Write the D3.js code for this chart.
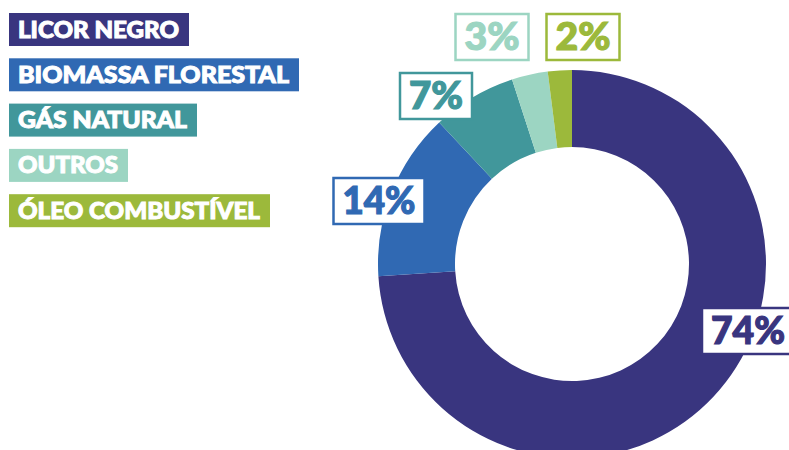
<!DOCTYPE html>
<html><head><meta charset="utf-8">
<script src="https://cdn.jsdelivr.net/npm/d3@7"></script>
<style>
body{margin:0;background:#fff}
text{font-family:Lato,"Open Sans",sans-serif;font-weight:900}
</style></head>
<body><svg id="chart" width="789" height="450"></svg>
<script>
// Fuel shares of the energy matrix
const categories = ["LICOR NEGRO", "BIOMASSA FLORESTAL", "GÁS NATURAL", "OUTROS", "ÓLEO COMBUSTÍVEL"];
const shares = [74, 14, 7, 3, 2];
const valueLabels = ["74%", "14%", "7%", "3%", "2%"];
const colors = ["#39357f", "#3069b3", "#41979b", "#9cd5c2", "#9cb93b"];

// layout
const cx = 572, cy = 264, outerR = 194, innerR = 117;
const labelAnchors = [[748, 331], [379, 201], [436, 96], [492, 37], [583, 37]];
const valueTextWidths = [74, 73, 54, 55, 55];
const legendTextWidths = [161, 271, 169, 100, 242];

const svg = d3.select("#chart");
const color = d3.scaleOrdinal().domain(categories).range(colors);

// donut
const pie = d3.pie().sort(null).value(d => d.v);
const arcs = pie(categories.map((c, i) => ({c, v: shares[i]})));
const arc = d3.arc().innerRadius(innerR).outerRadius(outerR);
svg.append("g").attr("transform", `translate(${cx},${cy})`)
  .selectAll("path").data(arcs).join("path")
  .attr("d", arc).attr("fill", d => color(d.data.c));

// value labels in outlined boxes
const vl = svg.append("g").selectAll("g").data(arcs).join("g")
  .attr("transform", (d, i) => `translate(${labelAnchors[i][0]},${labelAnchors[i][1]})`);
vl.append("rect").attr("fill", "#fff")
  .attr("stroke", d => color(d.data.c)).attr("stroke-width", 2.5)
  .attr("x", (d, i) => -valueTextWidths[i] / 2 - 9)
  .attr("width", (d, i) => valueTextWidths[i] + 18)
  .attr("y", -23).attr("height", 46);
vl.append("text").attr("text-anchor", "middle").attr("dy", "0.36em")
  .attr("font-size", 37).attr("fill", d => color(d.data.c))
  .attr("stroke", d => color(d.data.c)).attr("stroke-width", 1.2)
  .attr("textLength", (d, i) => valueTextWidths[i])
  .attr("lengthAdjust", "spacingAndGlyphs")
  .text((d, i) => valueLabels[i]);

// legend
const lg = svg.append("g").selectAll("g").data(categories).join("g")
  .attr("transform", (d, i) => `translate(9,${13 + i * 45.3})`);
lg.append("rect").attr("height", 33).attr("fill", d => color(d))
  .attr("width", (d, i) => legendTextWidths[i] + 19);
lg.append("text").attr("x", 9).attr("y", 24.5).attr("font-size", 23)
  .attr("fill", "#fff").attr("stroke", "#fff").attr("stroke-width", 1)
  .attr("textLength", (d, i) => legendTextWidths[i])
  .attr("lengthAdjust", "spacingAndGlyphs")
  .text(d => d);
</script>
</body></html>
